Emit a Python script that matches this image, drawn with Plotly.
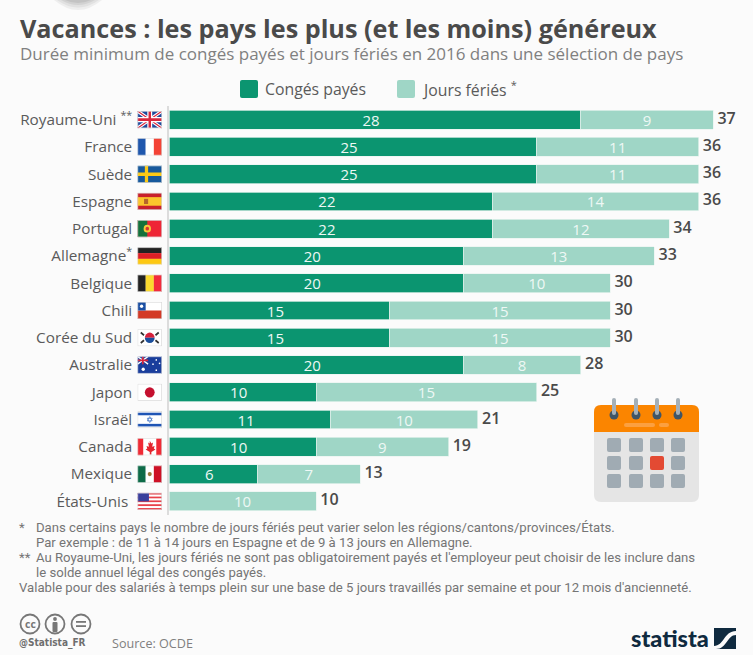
import base64
import plotly.graph_objects as go

countries = ["Royaume-Uni <sup>**</sup>", "France", "Suède", "Espagne", "Portugal", "Allemagne<sup>*</sup>", "Belgique",
             "Chili", "Corée du Sud", "Australie", "Japon", "Israël", "Canada", "Mexique", "États-Unis\u00a0"]
conges = [28, 25, 25, 22, 22, 20, 20, 15, 15, 20, 10, 11, 10, 6, 0]
feries = [9, 11, 11, 14, 12, 13, 10, 15, 15, 8, 15, 10, 9, 7, 10]
totaux = [37, 36, 36, 36, 34, 33, 30, 30, 30, 28, 25, 21, 19, 13, 10]
flag_codes = ["gb", "fr", "se", "es", "pt", "de", "be", "cl", "kr", "au", "jp", "il", "ca", "mx", "us"]

TITLE = "Vacances : les pays les plus (et les moins) généreux"
SUBTITLE = "Durée minimum de congés payés et jours fériés en 2016 dans une sélection de pays"
NOTES = [
    (19, 527, "*"),
    (36, 527, "Dans certains pays le nombre de jours fériés peut varier selon les régions/cantons/provinces/États."),
    (36, 542, "Par exemple : de 11 à 14 jours en Espagne et de 9 à 13 jours en Allemagne."),
    (19, 557, "**"),
    (36, 557, "Au Royaume-Uni, les jours fériés ne sont pas obligatoirement payés et l'employeur peut choisir de les inclure dans"),
    (36, 572, "le solde annuel légal des congés payés."),
    (19, 587, "Valable pour des salariés à temps plein sur une base de 5 jours travaillés par semaine et pour 12 mois d'ancienneté."),
]

W, H = 753, 655
BG = "#fbfbfb"
DARK, LIGHT = "#0b9570", "#9fd6c6"
TXT = "#5a5a5a"
px = lambda x: x / W
py = lambda y: 1 - y / H


def bands(cols, vertical=False):
    n = len(cols)
    out = ""
    for i, c in enumerate(cols):
        if vertical:
            out += f'<rect x="{i*30/n}" y="0" width="{30/n+.1}" height="20" fill="{c}"/>'
        else:
            out += f'<rect x="0" y="{i*20/n}" width="30" height="{20/n+.1}" fill="{c}"/>'
    return out


FLAGS = {
    "gb": '<rect width="30" height="20" fill="#1f4a9c"/><path d="M0 0L30 20M30 0L0 20" stroke="#fff" stroke-width="4"/><path d="M0 0L30 20M30 0L0 20" stroke="#d8263c" stroke-width="1.4"/><path d="M15 0V20M0 10H30" stroke="#fff" stroke-width="6"/><path d="M15 0V20M0 10H30" stroke="#d8263c" stroke-width="3"/>',
    "fr": bands(["#1f57ad", "#ffffff", "#f44336"], True),
    "se": '<rect width="30" height="20" fill="#17599c"/><path d="M11 0V20M0 10H30" stroke="#fcc916" stroke-width="4"/>',
    "es": '<rect width="30" height="20" fill="#c8202c"/><rect y="5" width="30" height="10" fill="#fbc52d"/><rect x="8" y="7" width="5" height="6" fill="#b5652a"/>',
    "pt": '<rect width="30" height="20" fill="#ee2536"/><rect width="12" height="20" fill="#15713b"/><circle cx="12" cy="10" r="4.5" fill="#f6c83a"/><circle cx="12" cy="10" r="2.2" fill="#d8342f"/>',
    "de": bands(["#222222", "#dd1f26", "#fdc813"]),
    "be": bands(["#222222", "#fbd92f", "#f22b3c"], True),
    "cl": '<rect width="30" height="10" fill="#fff"/><rect y="10" width="30" height="10" fill="#d33a26"/><rect width="10" height="10" fill="#1a4fa3"/><circle cx="5" cy="5" r="2" fill="#fff"/>',
    "kr": '<rect width="30" height="20" fill="#fff"/><path d="M9 10a6 6 0 0 1 12 0z" fill="#d5213c"/><path d="M9 10a6 6 0 0 0 12 0z" fill="#1b4f9c"/><path d="M4 4l4 3M26 4l-4 3M4 16l4-3M26 16l-4-3" stroke="#333" stroke-width="2.2"/>',
    "au": '<rect width="30" height="20" fill="#1a3e9c"/><path d="M0 0L13 9M13 0L0 9" stroke="#fff" stroke-width="1.6"/><path d="M6.500 0V9M0 4.500H13" stroke="#d8263c" stroke-width="2"/><g fill="#fff"><circle cx="7" cy="15" r="2"/><circle cx="23" cy="4" r="1"/><circle cx="23" cy="16" r="1"/><circle cx="19" cy="9" r="1"/><circle cx="27" cy="8" r="1"/></g>',
    "jp": '<rect width="30" height="20" fill="#fff"/><circle cx="15" cy="10" r="6" fill="#c5102f"/>',
    "il": '<rect width="30" height="20" fill="#fff"/><rect y="2" width="30" height="3" fill="#1f55b5"/><rect y="15" width="30" height="3" fill="#1f55b5"/><path d="M15 6.500l3 5h-6zM15 13.500l3-5h-6z" fill="none" stroke="#3a6fc4" stroke-width=".8"/>',
    "ca": '<rect width="30" height="20" fill="#fff"/><rect width="7" height="20" fill="#f02a35"/><rect x="23" width="7" height="20" fill="#f02a35"/><path d="M15 3l2 3 2-1-1 5 3-1-1 3 2 1-5 3v3h-2v-3l-5-3 2-1-1-3 3 1-1-5 2 1z" fill="#e3252e"/>',
    "mx": bands(["#0d6b48", "#ffffff", "#ce1126"], True) + '<circle cx="15" cy="10" r="2.500" fill="#9c7a3c"/>',
    "us": bands(["#e8414a", "#ffffff"] * 4 + ["#e8414a"]) + '<rect width="14" height="10" fill="#3a3f9c"/>',
}


def svg_uri(body):
    edge = '<rect x=".4" y=".4" width="29.2" height="19.2" fill="none" stroke="#d8d8d8" stroke-width=".8"/>'
    svg = f'<svg xmlns="http://www.w3.org/2000/svg" viewBox="0 0 30 20" width="60" height="40" preserveAspectRatio="none">{body}{edge}</svg>'
    return "data:image/svg+xml;base64," + base64.b64encode(svg.encode()).decode()


fig = go.Figure()
BARFONT = dict(family="Open Sans", size=15, color="#eef8f5")
fig.add_bar(y=countries, x=conges, orientation="h", marker=dict(color=DARK, line=dict(color="#e8f4f0", width=0.7)),
            name="Congés payés", text=[f"{v}\u00a0\u00a0" if v else None for v in conges], textposition="inside",
            insidetextanchor="middle", constraintext="none", textfont=BARFONT, textangle=0, hoverinfo="x+y")
fig.add_bar(y=countries, x=feries, orientation="h", marker=dict(color=LIGHT, line=dict(color="#e8f4f0", width=0.7)),
            name="Jours fériés", text=[str(v) for v in feries], textposition="inside",
            insidetextanchor="middle", constraintext="none", textfont=BARFONT, textangle=0, hoverinfo="x+y")
fig.add_scatter(y=countries, x=totaux, mode="text", text=["\u00a0" + str(v) for v in totaux],
                textposition="middle right", textfont=dict(family="Open Sans", size=16, color="#4a4a4a", weight=600),
                showlegend=False, hoverinfo="skip", cliponaxis=False)

shapes, annos, images = [], [], []


def rect(x0, y0, x1, y1, color, r=0):
    if r:
        path = (f"M{px(x0+r)},{py(y0)}L{px(x1-r)},{py(y0)}Q{px(x1)},{py(y0)} {px(x1)},{py(y0+r)}"
                f"L{px(x1)},{py(y1-r)}Q{px(x1)},{py(y1)} {px(x1-r)},{py(y1)}L{px(x0+r)},{py(y1)}"
                f"Q{px(x0)},{py(y1)} {px(x0)},{py(y1-r)}L{px(x0)},{py(y0+r)}Q{px(x0)},{py(y0)} {px(x0+r)},{py(y0)}Z")
        shapes.append(dict(type="path", xref="paper", yref="paper", path=path, fillcolor=color, line_width=0))
    else:
        shapes.append(dict(type="rect", xref="paper", yref="paper", x0=px(x0), x1=px(x1), y0=py(y0), y1=py(y1),
                           fillcolor=color, line_width=0))


def circ(cx, cy, r, color, line=None, lw=0):
    shapes.append(dict(type="circle", xref="paper", yref="paper", x0=px(cx-r), x1=px(cx+r), y0=py(cy-r), y1=py(cy+r),
                       fillcolor=color, line=dict(color=line or color, width=lw)))


def text(x, y, s, size, color=TXT, anchor="left", family="Open Sans", weight=None):
    f = dict(family=family, size=size, color=color)
    if weight:
        f["weight"] = weight
    annos.append(dict(xref="paper", yref="paper", x=px(x), y=py(y), text=s, showarrow=False, xanchor=anchor,
                      yanchor="middle", font=f, borderpad=0, borderwidth=0, align="left"))


# faint smudge at the top edge
for w, h, o in ((24, 10, .1), (21, 7.5, .12), (17, 5, .15), (13, 3, .18)):
    shapes.append(dict(type="path", xref="paper", yref="paper", fillcolor="#808080", opacity=o, line_width=0,
                       path=f"M{px(78-w)},1Q{px(78)},{py(2*h)} {px(78+w)},1Z"))

# titles
text(20, 28, TITLE, 25.2, "#4a4a4a", weight=700)
text(20, 54, SUBTITLE, 17, "#808080")

# legend
rect(240, 80, 258, 98, DARK, r=2)
text(265, 89, "Congés payés", 15.8)
rect(397, 80, 415, 98, LIGHT, r=2)
text(422, 89, "Jours fériés <sup>*</sup>", 15.8)

# flags, one per country row
for code, c in zip(flag_codes, countries):
    images.append(dict(source=svg_uri(FLAGS[code]), xref="paper", yref="y", x=px(137.5), y=c, sizex=24.5/W, sizey=0.63,
                       xanchor="left", yanchor="middle", sizing="stretch", layer="above"))

# notes
for x, y, s in NOTES:
    text(x, y, s, 13.15, "#757575", family="Roboto")

# calendar
rect(594, 405, 699, 502, "#e5e5e5", r=7)
rect(594, 405, 699, 432, "#fb8500", r=7)
rect(594, 425, 699, 432, "#fb8500")
for x in (614, 636, 657, 678):
    circ(x, 415, 4.5, "#3f5566")
    rect(x-2, 398, x+2, 415, "#a5b0b8", r=2)
rect(624, 423, 655, 427, "#fba040", r=2)
rect(659, 423, 669, 427, "#fba040", r=2)
for j, y in enumerate((445, 463, 481)):
    for i, x in enumerate((614, 636, 657, 678)):
        rect(x-7, y-7, x+7, y+7, "#e34a33" if (i == 2 and j == 1) else "#a0abb3", r=2)

# CC icons
for x in (30, 55, 81):
    circ(x, 624, 9.5, BG, "#777", 1.8)
text(30, 624, "cc", 10.5, "#777", "center", weight=700)
circ(55, 619, 1.9, "#777")
rect(52.5, 622, 57.5, 632, "#777", r=1)
rect(76, 621, 86, 622.8, "#777")
rect(76, 625.2, 86, 627, "#777")
text(19, 643, "@Statista_FR", 10, "#6e6e6e", family="DejaVu Sans Condensed", weight=700)
text(112, 643, "Source: OCDE", 12.6, "#808080")

# logo
text(631, 638, "statista", 23.5, "#0f2a3f", family="Lato", weight=900)
rect(714, 628, 736, 649, "#0f2a3f")
shapes.append(dict(type="path", xref="paper", yref="paper", fillcolor=BG, line_width=0,
                   path=f"M{px(714)},{py(646)}C{px(724)},{py(646)} {px(724)},{py(631)} {px(736)},{py(631)}L{px(736)},{py(635)}C{px(727)},{py(635)} {px(727)},{py(649)} {px(716)},{py(649)}L{px(714)},{py(649)}Z"))

fig.update_layout(
    width=W, height=H, margin=dict(l=0, r=0, t=0, b=0), barmode="stack", bargap=0.31,
    paper_bgcolor=BG, plot_bgcolor=BG, showlegend=False,
    shapes=shapes, annotations=annos, images=images,
    xaxis=dict(domain=[px(169), px(728)], range=[0, 38], visible=False, fixedrange=True),
    yaxis=dict(domain=[py(515), py(106)], autorange=False, range=[14.5, -0.5], type="category",
               categoryorder="array", categoryarray=countries, showgrid=False, zeroline=False,
               showline=True, linecolor="#dcdcdc", linewidth=1.5, ticks="", ticklabelstandoff=32,
               tickfont=dict(family="Open Sans", size=15.3, color=TXT), fixedrange=True),
)
fig.write_html("out.html", config=dict(displayModeBar=False),
               post_script="document.body.style.margin='0';document.documentElement.style.overflow='hidden';")
